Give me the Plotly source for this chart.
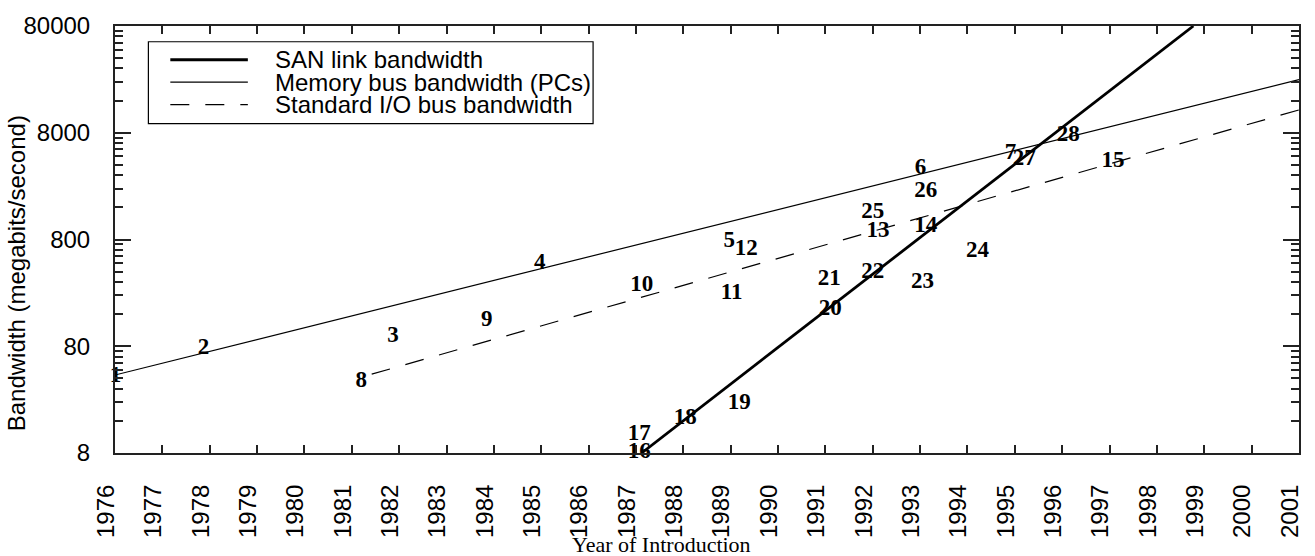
import math
import plotly.graph_objects as go

# ---------------- data ----------------
years = list(range(1976, 2002))
year_labels = [str(y) for y in years]
bw_ticks = [8, 80, 800, 8000, 80000]
bw_tick_labels = ["8", "80", "800", "8000", "80000"]

san_years = [1987.12, 1998.77]
san_bw = [8, 80000]
mem_years = [1976, 2001]
mem_bw = [43, 25200]
io_years = [1981.42, 2001]
io_bw = [43.8, 13100]

point_ids = ["1", "2", "3", "4", "5", "6", "7", "8", "9", "10",
             "11", "12", "13", "14", "15", "16", "17", "18", "19", "20",
             "21", "22", "23", "24", "25", "26", "27", "28"]
point_years = [1976.01, 1977.87, 1981.87, 1984.97, 1988.97, 1993.01, 1994.91, 1981.20, 1983.85, 1987.12,
               1989.02, 1989.33, 1992.11, 1993.12, 1997.07, 1987.07, 1987.07, 1988.04, 1989.18, 1991.10,
               1991.08, 1992.00, 1993.05, 1994.21, 1992.00, 1993.12, 1995.20, 1996.13]
point_bw = [41.7, 77, 99.5, 477, 776, 3724, 5115, 37.6, 139.6, 299,
            253, 655, 960, 1067, 4318, 8.05, 12.0, 17.1, 23.6, 176,
            340, 394, 319, 615, 1435, 2286, 4508, 7650]

legend_names = ["SAN link bandwidth", "Memory bus bandwidth (PCs)", "Standard I/O bus bandwidth"]

# ---------------- geometry / styles ----------------
W, H = 1315, 556
PL, PR, PT, PB = 115, 1303, 19, 453
SANS = "Liberation Sans, Arial, sans-serif"
SERIF = "Liberation Serif, Times New Roman, serif"
DASH = "19px,16px"
AXC = "#222222"


def px_x(x):
    return (x - PL) / (PR - PL)


def px_y(y):
    return (PB - y) / (PB - PT)


fig = go.Figure()
fig.add_trace(go.Scatter(x=san_years, y=san_bw, mode="lines", name=legend_names[0],
                         line=dict(color="black", width=2.8), showlegend=False))
fig.add_trace(go.Scatter(x=mem_years, y=mem_bw, mode="lines", name=legend_names[1],
                         line=dict(color="black", width=1.2), showlegend=False))
fig.add_trace(go.Scatter(x=io_years, y=io_bw, mode="lines", name=legend_names[2],
                         line=dict(color="black", width=1.2, dash=DASH), showlegend=False))
fig.add_trace(go.Scatter(x=point_years, y=point_bw, mode="text", text=point_ids,
                         textposition="middle center",
                         textfont=dict(family=SERIF, size=23, color="black", weight="bold"),
                         cliponaxis=False, showlegend=False, hoverinfo="skip"))

minor_vals = [8 * k * 10 ** n for n in range(4) for k in range(2, 10)]

fig.update_layout(
    width=W, height=H,
    margin=dict(l=PL, r=W - PR, t=PT, b=H - PB, pad=0),
    paper_bgcolor="white", plot_bgcolor="white",
    showlegend=False,
    xaxis=dict(
        range=[1976, 2001], tickmode="array", tickvals=years, ticktext=year_labels,
        tickangle=-90, ticks="inside", ticklen=8, tickwidth=1.6, tickcolor=AXC,
        showline=True, linecolor=AXC, linewidth=2, mirror="ticks",
        showgrid=False, zeroline=False,
        tickfont=dict(family=SANS, size=24, color="black"),
        ticklabelstandoff=20, ticklabelshift=-9,
    ),
    yaxis=dict(
        type="log", range=[math.log10(8), math.log10(80000)],
        tickmode="array", tickvals=bw_ticks, ticktext=bw_tick_labels,
        ticks="inside", ticklen=16, tickwidth=1.6, tickcolor=AXC,
        showline=True, linecolor=AXC, linewidth=2, mirror="ticks",
        showgrid=False, zeroline=False,
        tickfont=dict(family=SANS, size=24, color="black"),
        ticklabelstandoff=18,
        minor=dict(tickmode="array", tickvals=minor_vals, ticks="inside", ticklen=8,
                   tickwidth=1.6, tickcolor=AXC, showgrid=False),
    ),
)

# axis titles
fig.add_annotation(text="Year of Introduction", xref="paper", yref="paper",
                   x=px_x(663), y=px_y(545.5), xanchor="center", yanchor="middle",
                   showarrow=False, font=dict(family=SERIF, size=22, color="black"))
fig.add_annotation(text="Bandwidth (megabits/second)", xref="paper", yref="paper",
                   x=px_x(17), y=px_y(270), xanchor="center", yanchor="middle",
                   textangle=-90, showarrow=False,
                   font=dict(family=SANS, size=24, color="black"))

# legend box
fig.add_shape(type="rect", xref="paper", yref="paper",
              x0=px_x(148.5), x1=px_x(594.7), y0=px_y(118.3), y1=px_y(35),
              line=dict(color="black", width=1.2), fillcolor="white", layer="above")
rows = [53.3, 76, 99]
styles = [dict(width=2.8), dict(width=1.2), dict(width=1.2, dash=DASH)]
for name, ry, st in zip(legend_names, rows, styles):
    fig.add_shape(type="line", xref="paper", yref="paper",
                  x0=px_x(170.5), x1=px_x(248.3), y0=px_y(ry), y1=px_y(ry),
                  line=dict(color="black", **st), layer="above")
    fig.add_annotation(text=name, xref="paper", yref="paper",
                       x=px_x(273.6), y=px_y(ry), xanchor="left", yanchor="middle",
                       showarrow=False, font=dict(family=SANS, size=24, color="black"))

fig.write_html("out.html", config={"displayModeBar": False},
               post_script="document.body.style.margin='0';document.body.style.overflow='hidden';")
